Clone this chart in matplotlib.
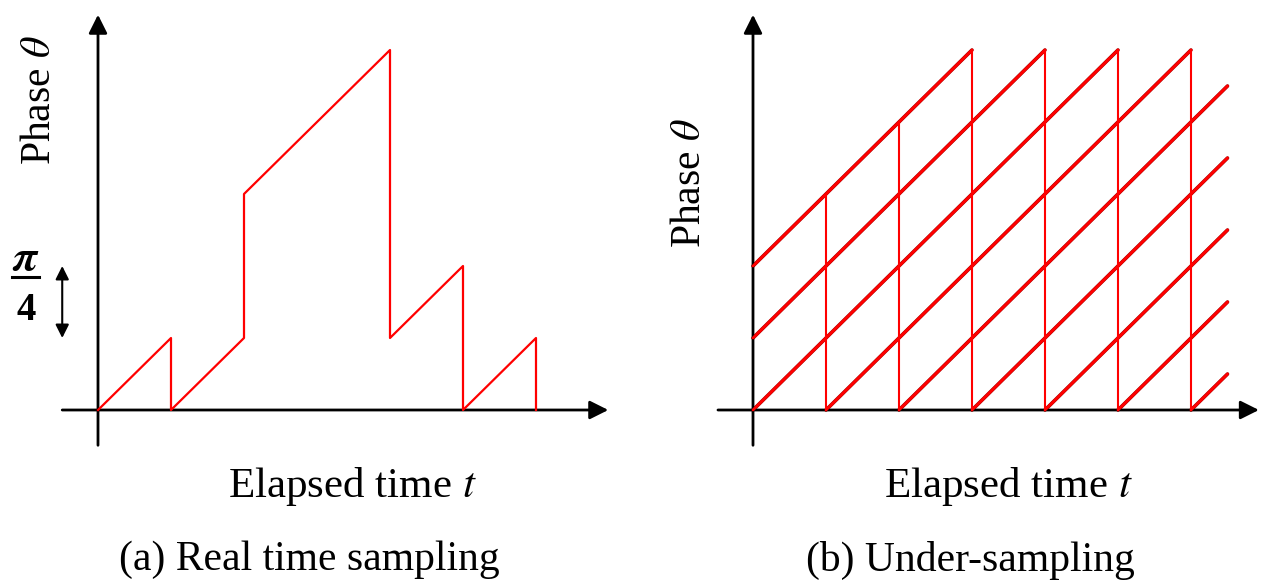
import matplotlib.pyplot as plt

plt.rcParams['font.family'] = ['Liberation Serif', 'DejaVu Serif']
plt.rcParams['mathtext.fontset'] = 'stix'

# (a) real time sampling: phase sawtooth, time in sampling steps, phase in units of pi/4
real_t = [0, 1, 1, 2, 2, 4, 4, 5, 5, 6, 6]
real_phase = [0, 1, 0, 1, 3, 5, 1, 2, 0, 1, 0]

# (b) under-sampling: rising phase ramps (start/end points) and sample drop lines
ramp_t0 = [0, 0, 0, 1, 2, 3, 4, 5, 6]
ramp_p0 = [2, 1, 0, 0, 0, 0, 0, 0, 0]
ramp_t1 = [3, 4, 5, 6, 6.5, 6.5, 6.5, 6.5, 6.5]
ramp_p1 = [5, 5, 5, 5, 4.5, 3.5, 2.5, 1.5, 0.5]
drop_t = [1, 2, 3, 4, 5, 6]
drop_top = [3, 4, 5, 5, 5, 5]

W, H = 1265, 585
fig = plt.figure(figsize=(W / 100, H / 100), dpi=100)

ax1 = fig.add_axes([0, 0, 632 / W, 1])
ax1.set_xlim(-98 / 73, (632 - 98) / 73)
ax1.set_ylim((410 - 585) / 72, 410 / 72)
ax1.axis('off')

ax2 = fig.add_axes([632 / W, 0, 633 / W, 1])
ax2.set_xlim((632 - 753) / 73, (1265 - 753) / 73)
ax2.set_ylim((410 - 585) / 72, 410 / 72)
ax2.axis('off')

arrow = dict(arrowstyle='-|>', lw=2, color='black', mutation_scale=28,
             shrinkA=0, shrinkB=0)


def draw_axes(ax, x0, x1, y0, y1):
    ax.annotate('', xy=(x1, 0), xytext=(x0, 0), arrowprops=arrow)
    ax.annotate('', xy=(0, y1), xytext=(0, y0), arrowprops=arrow)


draw_axes(ax1, -0.49, 6.99, -0.49, 5.49)
draw_axes(ax2, -0.48, 6.93, -0.49, 5.49)

# left plot
ax1.plot(real_t, real_phase, color='red', lw=1.6, zorder=3)

# pi/4 scale marker
ax1.annotate('', xy=(-0.49, 2.0), xytext=(-0.49, 1.0),
             arrowprops=dict(arrowstyle='<|-|>', lw=1.5, color='black',
                             mutation_scale=20, shrinkA=0, shrinkB=0))
ax1.plot([-1.18, -0.81], [1.85, 1.85], color='black', lw=2.2)
ax1.text(-0.99, 2.1, r'$\boldsymbol{\pi}$', fontsize=32, ha='center', va='center')
ax1.text(-0.99, 1.38, '4', fontsize=28, fontweight='bold', ha='center', va='center')

# right plot
for t0, p0, t1, p1 in zip(ramp_t0, ramp_p0, ramp_t1, ramp_p1):
    ax2.plot([t0, t1], [p0, p1], color='#a00000', lw=2.6, zorder=2,
             solid_capstyle='round')
    ax2.plot([t0, t1], [p0, p1], color='red', lw=2.0, zorder=3,
             solid_capstyle='round')
ax2.vlines(drop_t, 0, drop_top, color='red', lw=1.5, zorder=3)

# labels
fs = 30
fig.text(40 / W, 1 - 100 / H, r'Phase $\theta$', rotation=90, fontsize=fs,
         ha='center', va='center')
fig.text(690 / W, 1 - 183 / H, r'Phase $\theta$', rotation=90, fontsize=fs,
         ha='center', va='center')
fig.text(352 / W, 1 - 487 / H, r'Elapsed time $t$', fontsize=31,
         ha='center', va='center')
fig.text(1008 / W, 1 - 487 / H, r'Elapsed time $t$', fontsize=31,
         ha='center', va='center')
fig.text(309 / W, 1 - 560 / H, '(a) Real time sampling', fontsize=fs,
         ha='center', va='center')
fig.text(970 / W, 1 - 560 / H, '(b) Under-sampling', fontsize=fs,
         ha='center', va='center')

fig.savefig('out.png', dpi=100)
